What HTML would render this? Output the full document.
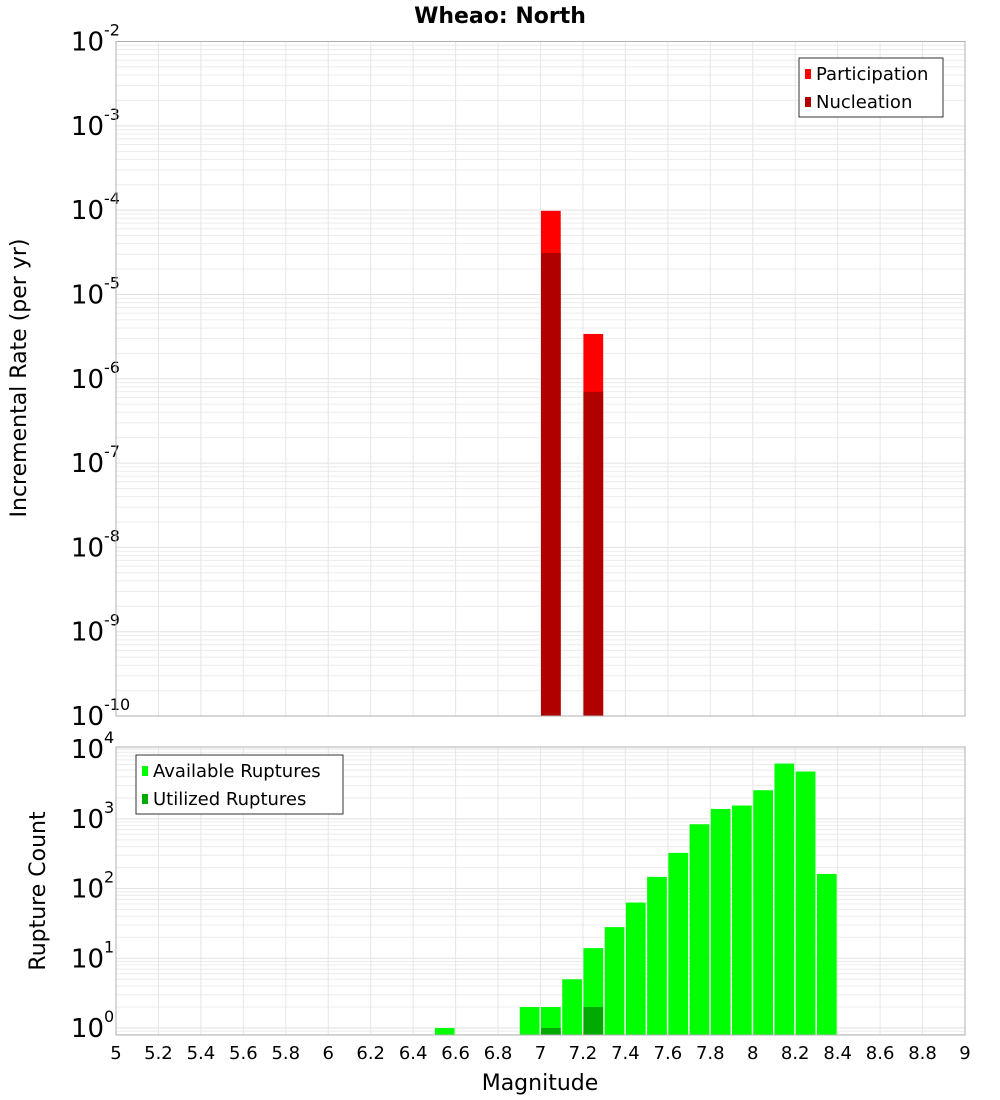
<!DOCTYPE html>
<html><head><meta charset="utf-8"><style>
body{margin:0;background:#fff;}
svg{display:block;font-family:"DejaVu Sans","Liberation Sans",sans-serif;}
</style></head><body>
<svg id="chart" width="1000" height="1100" viewBox="0 0 1000 1100">
<text x="500" y="23" text-anchor="middle" font-size="22" font-weight="bold">Wheao: North</text>
<g id="top"></g>
<g id="bot"></g>
<text transform="translate(26,378) rotate(-90)" text-anchor="middle" font-size="22">Incremental Rate (per yr)</text>
<text transform="translate(45,891) rotate(-90)" text-anchor="middle" font-size="22">Rupture Count</text>
<text x="540" y="1090" text-anchor="middle" font-size="22">Magnitude</text>
</svg>
<script>
// Top chart data
const rateBins = [7.05, 7.25];
const participation = [9.8e-5, 3.4e-6];
const nucleation = [3.1e-5, 7.0e-7];
// Bottom chart data
const countBins = [6.55, 6.95, 7.05, 7.15, 7.25, 7.35, 7.45, 7.55, 7.65, 7.75, 7.85, 7.95, 8.05, 8.15, 8.25, 8.35];
const available = [1, 2, 2, 5, 14, 28, 63, 147, 325, 836, 1385, 1550, 2570, 6200, 4770, 162];
const utilized = [0, 0, 1, 0, 2, 0, 0, 0, 0, 0, 0, 0, 0, 0, 0, 0];
const xTicks = [5,5.2,5.4,5.6,5.8,6,6.2,6.4,6.6,6.8,7,7.2,7.4,7.6,7.8,8,8.2,8.4,8.6,8.8,9];
const topExp = [-2,-3,-4,-5,-6,-7,-8,-9,-10];
const botExp = [0,1,2,3,4];

const NS = "http://www.w3.org/2000/svg";
const L = 116, R = 965;
const xS = m => L + (m - 5) / 4 * (R - L);
const mk = (p, tag, at) => { const e = document.createElementNS(NS, tag); for (const k in at) e.setAttribute(k, at[k]); p.appendChild(e); return e; };

function plot(g, top, bot, lmin, lmax, expTicks) {
  const yS = v => bot - (Math.log10(v) - lmin) / (lmax - lmin) * (bot - top);
  // minor + major horizontal grid
  for (let e = Math.floor(lmin); e <= Math.ceil(lmax); e++) {
    for (let k = 1; k < 10; k++) {
      const v = k * Math.pow(10, e), lv = Math.log10(v);
      if (lv < lmin || lv > lmax) continue;
      const y = yS(v);
      const ln = mk(g, "line", {x1: L, x2: R, y1: y, y2: y, stroke: k === 1 ? "#e2e2e2" : "#ececec", "stroke-width": 1});
      
      
    }
  }
  xTicks.forEach(t => {
    const x = xS(t);
    const ln = mk(g, "line", {x1: x, x2: x, y1: top, y2: bot, stroke: "#e6e6e6", "stroke-width": 1});
    
    
  });
  expTicks.forEach(e => {
    const y = yS(Math.pow(10, e));
    const t = mk(g, "text", {x: 104, y: y + 9, "text-anchor": "end", "font-size": 26});
    
    
    t.textContent = "10";
    const s = mk(g, "text", {x: 104, y: y - 6, "text-anchor": "start", "font-size": 16});
    
    
    s.textContent = String(e);
  });
  return yS;
}

const gt = document.getElementById("top");
const yT = plot(gt, 41.5, 716, -10, -2, topExp);
const bw = (R - L) / 40;
rateBins.forEach((m, i) => {
  const x = xS(m) - bw / 2 + 0.5;
  const r1 = mk(gt, "rect", {x: x, y: yT(participation[i]), width: bw - 1.5, height: 716 - yT(participation[i]), fill: "#ff0000"});
  
  
  const r2 = mk(gt, "rect", {x: x, y: yT(nucleation[i]), width: bw - 1.5, height: 716 - yT(nucleation[i]), fill: "#b00000"});
  
  
});
const fr1 = mk(gt, "rect", {x: L, y: 41.5, width: R - L, height: 674.5, fill: "none", stroke: "#b0b0b0"});



const gb = document.getElementById("bot");
const yB = plot(gb, 747, 1035, -0.1, 4.03, botExp);
countBins.forEach((m, i) => {
  const x = xS(m) - bw / 2 + 0.5;
  const r1 = mk(gb, "rect", {x: x, y: yB(available[i]), width: bw - 1.5, height: 1035 - yB(available[i]), fill: "#00ff00"});
  
  
  if (utilized[i] > 0) {
    const r2 = mk(gb, "rect", {x: x, y: yB(utilized[i]), width: bw - 1.5, height: 1035 - yB(utilized[i]), fill: "#00aa00"});
    
    
  }
});
const fr2 = mk(gb, "rect", {x: L, y: 747, width: R - L, height: 288, fill: "none", stroke: "#b0b0b0"});


xTicks.forEach(t => {
  const tx = mk(gb, "text", {x: xS(t), y: 1059, "text-anchor": "middle", "font-size": 18});
  
  
  tx.textContent = String(t);
});

function legend(g, x, y, w, items) {
  const box = mk(g, "rect", {x: x, y: y, width: w, height: 59, fill: "#fff", stroke: "#333", "stroke-width": 1});
  
  
  items.forEach((it, i) => {
    const cy = y + 16 + i * 28;
    const sw = mk(g, "rect", {x: x + 6, y: cy - 5, width: 6, height: 10, fill: it[1]});
    
    
    const t = mk(g, "text", {x: x + 17, y: cy + 6, "font-size": 18});
    
    
    t.textContent = it[0];
  });
}
legend(gt, 799, 58, 144, [["Participation", "#ff0000"], ["Nucleation", "#b00000"]]);
legend(gb, 136, 755, 207, [["Available Ruptures", "#00ff00"], ["Utilized Ruptures", "#00aa00"]]);
</script>
</body></html>
